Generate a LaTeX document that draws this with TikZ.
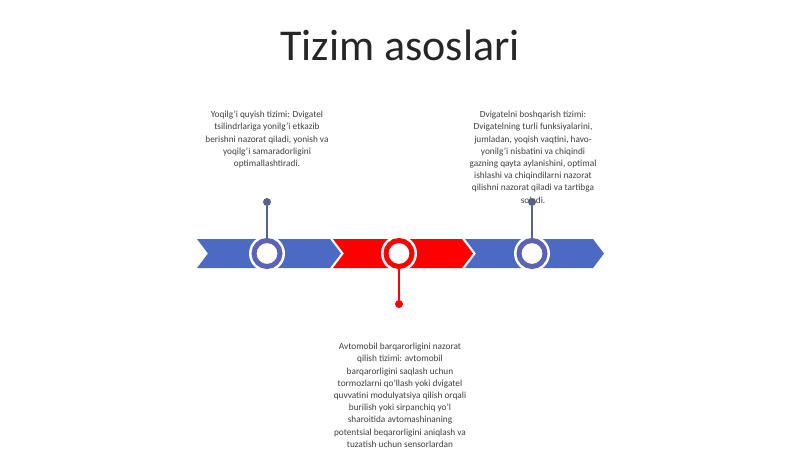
\documentclass[tikz,border=0pt]{standalone}
\usepackage{fontspec}
\setmainfont{Carlito}
\definecolor{chevblue}{HTML}{4C69C4}
\definecolor{ringblue}{HTML}{5B63B8}
\definecolor{pingray}{HTML}{5A6182}
\definecolor{txtgray}{HTML}{404040}
\tikzset{
  desc/.style={text=txtgray, align=center, font=\fontsize{9.3}{12.2}\selectfont, inner sep=0pt},
  ring/.style={circle, draw=#1, line width=5pt, fill=white, minimum size=26pt, inner sep=0pt},
  pin/.style={circle, fill=#1, minimum size=8pt, inner sep=0pt},
}
\begin{document}
\begin{tikzpicture}[x=1pt, y=-1pt]
  \useasboundingbox[fill=white] (0,0) rectangle (800,449);
  \node[text=black!85, font=\fontsize{44}{52}\selectfont] (title) at (400,45) {Tizim asoslari};
  % chevron band
  \foreach \a/\b/\col in {197/330/chevblue, 333/462/red, 465/593/chevblue}
    \fill[\col] (\a,239) -- (\b,239) -- (\b+11,253.5) -- (\b,268) -- (\a,268) -- (\a+11,253.5) -- cycle;
  % white halo behind the rings
  \foreach \x in {267,399,532}
    \fill[white] (\x,253.5) circle (18);
  \node[ring=ringblue] (c1) at (267,253.5) {};
  \node[ring=red] (c2) at (399,253.5) {};
  \node[ring=ringblue] (c3) at (532,253.5) {};
  \node[desc, anchor=north] (t1) at (267,111) {Yoqilg'i quyish tizimi: Dvigatel\\tsilindrlariga yonilg'i etkazib\\berishni nazorat qiladi, yonish va\\yoqilg'i samaradorligini\\optimallashtiradi.};
  \node[desc, anchor=north] (t2) at (533,111) {Dvigatelni boshqarish tizimi:\\Dvigatelning turli funksiyalarini,\\jumladan, yoqish vaqtini, havo-\\yonilg'i nisbatini va chiqindi\\gazning qayta aylanishini, optimal\\ishlashi va chiqindilarni nazorat\\qilishni nazorat qiladi va tartibga\\soladi.};
  \node[desc, anchor=north] (t3) at (400,343) {Avtomobil barqarorligini nazorat\\qilish tizimi: avtomobil\\barqarorligini saqlash uchun\\tormozlarni qo'llash yoki dvigatel\\quvvatini modulyatsiya qilish orqali\\burilish yoki sirpanchiq yo'l\\sharoitida avtomashinaning\\potentsial beqarorligini aniqlash va\\tuzatish uchun sensorlardan};
  \node[pin=pingray] (p1) at (267,202) {};
  \node[pin=red] (p2) at (399,304) {};
  \node[pin=pingray] (p3) at (532,202) {};
  \draw[pingray, line width=1.2pt] (c1) -- (p1);
  \draw[red, line width=1.2pt] (c2) -- (p2);
  \draw[pingray, line width=1.2pt] (c3) -- (p3);
\end{tikzpicture}
\end{document}
